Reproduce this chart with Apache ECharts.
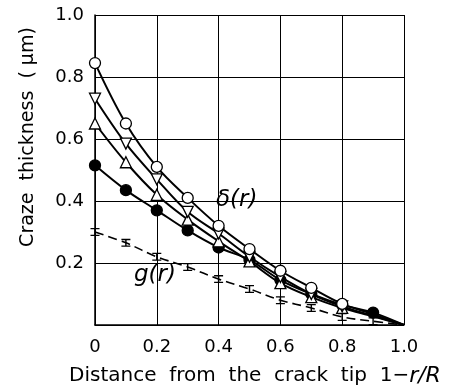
<!DOCTYPE html>
<html><head><meta charset="utf-8">
<script src="https://cdn.jsdelivr.net/npm/echarts@6/dist/echarts.min.js"></script>
<style>html,body{margin:0;padding:0;background:#fff}#c{width:453px;height:390px}</style>
</head><body><div id="c"></div>
<script>
const xs = [0, 0.1, 0.2, 0.3, 0.4, 0.5, 0.6, 0.7, 0.8, 0.9, 1.0];
const openCircle = [0.845, 0.65, 0.51, 0.41, 0.32, 0.245, 0.175, 0.12, 0.068, 0.035, 0];
const triDown = [0.73, 0.585, 0.47, 0.365, 0.295, 0.22, 0.155, 0.1, 0.06, 0.03, 0];
const triUp = [0.65, 0.525, 0.42, 0.34, 0.27, 0.205, 0.135, 0.09, 0.055, 0.028, 0];
const filledCircle = [0.515, 0.435, 0.37, 0.305, 0.25, 0.21, 0.145, 0.1, 0.065, 0.04, 0];
const gr = [0.30, 0.265, 0.22, 0.187, 0.148, 0.116, 0.08, 0.055, 0.026, 0.012, 0];
const xTicks = ['0', '0.2', '0.4', '0.6', '0.8', '1.0'];
const yTicks = ['', '0.2', '0.4', '0.6', '0.8', '1.0'];

const FONT = 'DejaVu Sans';
const ibeam = 'path://M0,0H10V1.6H5.8V8.4H10V10H0V8.4H4.2V1.6H0Z';

function pts(arr, lastMarked) {
  return arr.map((v, i) => {
    const d = { value: [xs[i], v] };
    if (i > lastMarked) d.symbol = 'none';
    return d;
  });
}
function ser(arr, symbol, fill, lastMarked, extra) {
  return Object.assign({
    type: 'line', smooth: 0.35, data: pts(arr, lastMarked), symbol: symbol, symbolSize: 11,
    showAllSymbol: true,
    lineStyle: { color: '#000', width: 2 },
    itemStyle: { color: fill, borderColor: '#000', borderWidth: 1.3 },
    z: 3
  }, extra || {});
}

const chart = echarts.init(document.getElementById('c'));
chart.setOption({
  animation: false,
  grid: { left: 95, right: 49, top: 15, bottom: 65 },
  xAxis: {
    type: 'value', min: 0, max: 1, interval: 0.2,
    axisLine: { show: true, lineStyle: { color: '#000', width: 1.5 } },
    axisTick: { show: false },
    splitLine: { show: true, lineStyle: { color: '#000', width: 1 } },
    axisLabel: { margin: 13, color: '#000', fontSize: 18, fontFamily: FONT,
      formatter: v => xTicks[Math.round(v / 0.2)] }
  },
  yAxis: {
    type: 'value', min: 0, max: 1, interval: 0.2,
    axisLine: { show: true, lineStyle: { color: '#000', width: 1.5 } },
    axisTick: { show: false },
    splitLine: { show: true, lineStyle: { color: '#000', width: 1 } },
    axisLabel: { margin: 11, color: '#000', fontSize: 18, fontFamily: FONT,
      formatter: v => yTicks[Math.round(v / 0.2)] }
  },
  series: [
    ser(gr, ibeam, '#000', 9, { symbolSize: [9, 8], lineStyle: { color: '#000', width: 1.6, type: [9, 5] }, itemStyle: { color: '#000', borderWidth: 0 } }),
    ser(filledCircle, 'circle', '#000', 9),
    ser(triUp, 'triangle', '#fff', 8),
    ser(triDown, 'triangle', '#fff', 8, { symbolRotate: 180 }),
    ser(openCircle, 'circle', '#fff', 8)
  ],
  graphic: [
    { type: 'text', left: 216, top: 189, style: { text: 'δ(r)', font: 'italic 23px "' + FONT + '"', fill: '#000' } },
    { type: 'text', left: 134, top: 264, style: { text: 'g(r)', font: 'italic 23px "' + FONT + '"', fill: '#000' } },
    { type: 'text', x: 28, y: 137, rotation: Math.PI / 2,
      style: { text: 'Craze  thickness  ( μm)', font: '19px "' + FONT + '"', fill: '#000', align: 'center', verticalAlign: 'middle' } },
    { type: 'text', x: 255, y: 376,
      style: { text: '{n|Distance  from  the  crack  tip  1−}{i|r/R}', align: 'center', verticalAlign: 'middle',
        rich: { n: { fontSize: 20, fontFamily: FONT, fill: '#000' }, i: { fontSize: 22, fontStyle: 'italic', fontFamily: FONT, fill: '#000' } } } }
  ]
});
</script></body></html>
